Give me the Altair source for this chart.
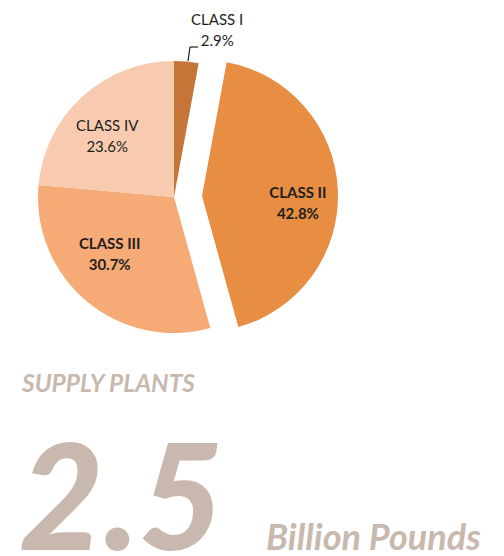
import math
import altair as alt
import pandas as pd

classes = ["CLASS I", "CLASS II", "CLASS III", "CLASS IV"]
shares = [2.9, 42.8, 30.7, 23.6]
colors = ["#C47537", "#E88E43", "#F6AB77", "#F8CBB0"]
headline = "SUPPLY PLANTS"
big_value = "2.5"
unit = "Billion Pounds"

df = pd.DataFrame({"cls": classes, "pct": shares})
df["end"] = df["pct"].cumsum()
df["start"] = df["end"] - df["pct"]
df["mid"] = (df["start"] + df["end"]) / 2
df["label"] = df["cls"] + "\n" + df["pct"].map(lambda v: f"{v:.1f}%")

W, H = 488, 548
CX, CY = 166, 189
R = 136
EXPLODE_DX, EXPLODE_DY = 28, -1

theta_scale = alt.Scale(domain=[0, 100], range=[0, 2 * math.pi])
color_scale = alt.Scale(domain=classes, range=colors)
FONT = "Lato"

base = alt.Chart(df)

pie_rest = base.transform_filter(alt.datum.cls != "CLASS II").mark_arc(
    radius=R, stroke=None
).encode(
    theta=alt.Theta("start:Q", scale=theta_scale),
    theta2="end:Q",
    color=alt.Color("cls:N", scale=color_scale, legend=None),
    x=alt.value(CX),
    y=alt.value(CY),
)

pie_exploded = base.transform_filter(alt.datum.cls == "CLASS II").mark_arc(
    radius=R, stroke=None
).encode(
    theta=alt.Theta("start:Q", scale=theta_scale),
    theta2="end:Q",
    color=alt.Color("cls:N", scale=color_scale, legend=None),
    x=alt.value(CX + EXPLODE_DX),
    y=alt.value(CY + EXPLODE_DY),
)

def label_layer(filt, cx, cy, radius, weight, dx=0, dy=0):
    return base.transform_filter(filt).mark_text(
        font=FONT, fontSize=15, fontWeight=weight, lineBreak="\n", lineHeight=21,
        align="center", baseline="middle", color="#1E1E1E", dx=dx, dy=dy
    ).encode(
        theta=alt.Theta("mid:Q", scale=theta_scale),
        radius=alt.value(radius),
        text="label:N",
        x=alt.value(cx),
        y=alt.value(cy),
    )

lbl_iv = label_layer(alt.datum.cls == "CLASS IV", CX, CY, 90, "normal", dx=-6, dy=-5)
lbl_iii = label_layer(alt.datum.cls == "CLASS III", CX, CY, 88, "bold", dx=-8, dy=-21)
lbl_ii = label_layer(alt.datum.cls == "CLASS II", CX + EXPLODE_DX, CY + EXPLODE_DY, 96, "bold", dy=1)
lbl_i = label_layer(alt.datum.cls == "CLASS I", CX, CY, 167, "normal", dx=28, dy=-11)

leader1 = alt.Chart(df.head(1)).mark_rule(color="#1E1E1E", strokeWidth=1.2).encode(
    x=alt.value(CX + 14), y=alt.value(CY - 136), x2=alt.value(CX + 16), y2=alt.value(CY - 150)
)
leader2 = alt.Chart(df.head(1)).mark_rule(color="#1E1E1E", strokeWidth=1.2).encode(
    x=alt.value(CX + 16), y=alt.value(CY - 150), x2=alt.value(CX + 24), y2=alt.value(CY - 150)
)

TXT = "#C8B8AE"
t1 = alt.Chart(pd.DataFrame({"t": [headline]})).mark_text(
    font=FONT, fontSize=24.5, fontWeight="bold", fontStyle="italic", color=TXT,
    align="left", baseline="alphabetic"
).encode(text="t:N", x=alt.value(14), y=alt.value(384))

t2 = alt.Chart(pd.DataFrame({"t": [big_value]})).mark_text(
    font=FONT, fontSize=146, fontWeight=900, fontStyle="italic", color=TXT,
    align="left", baseline="alphabetic"
).encode(text="t:N", x=alt.value(11), y=alt.value(542))

t3 = alt.Chart(pd.DataFrame({"t": [unit]})).mark_text(
    font=FONT, fontSize=36, fontWeight="bold", fontStyle="italic", color=TXT,
    align="left", baseline="alphabetic"
).encode(text="t:N", x=alt.value(258), y=alt.value(542))

chart = alt.layer(
    pie_rest, pie_exploded, lbl_iv, lbl_iii, lbl_ii, lbl_i, leader1, leader2, t1, t2, t3
).properties(
    width=W, height=H, autosize=alt.AutoSizeParams(type="none"), padding=0
).configure_view(stroke=None)

chart.save("out.html", embed_options={"renderer": "svg", "actions": False})
